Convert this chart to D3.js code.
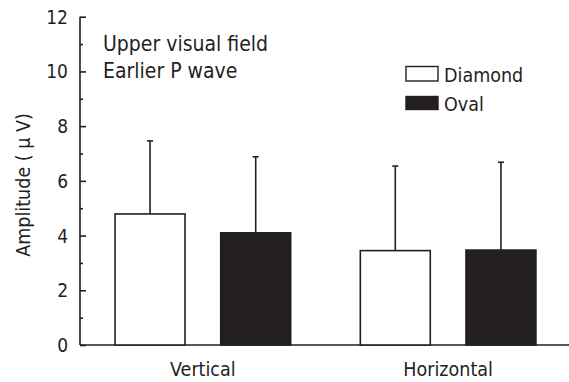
<!DOCTYPE html>
<html>
<head>
<meta charset="utf-8">
<script src="https://cdn.jsdelivr.net/npm/d3@7"></script>
<style>
  body { margin: 0; background: #fff; }
  text { font-family: "DejaVu Sans Condensed", "DejaVu Sans", Verdana, sans-serif; font-stretch: condensed; fill: #231f20; }
</style>
</head>
<body>
<div id="chart"></div>
<script>
const categories = ["Vertical", "Horizontal"];
const series = ["Diamond", "Oval"];
const diamondMean = [4.79, 3.45];
const diamondSD = [2.67, 3.09];
const ovalMean = [4.1, 3.47];
const ovalSD = [2.78, 3.21];
const yTicks = [0, 2, 4, 6, 8, 10, 12];
const yMinorTicks = [1, 3, 5, 7, 9, 11];

const width = 569, height = 382;
const ink = "#231f20";
const fills = { Diamond: "#fff", Oval: "#231f20" };

const rows = categories.map((c, i) => ({
  category: c,
  values: [
    { key: "Diamond", mean: diamondMean[i], sd: diamondSD[i] },
    { key: "Oval", mean: ovalMean[i], sd: ovalSD[i] }
  ]
}));

const svg = d3.select("#chart").append("svg")
  .attr("width", width)
  .attr("height", height);

// scales
const x0 = d3.scaleBand()
  .domain(categories)
  .range([80, 571])
  .paddingInner(0.284)
  .paddingOuter(0.143);

const x1 = d3.scaleBand()
  .domain(series)
  .range([0, x0.bandwidth()])
  .paddingInner(0.338);

const y = d3.scaleLinear()
  .domain([0, 12])
  .range([345, 16.7]);

// y axis
const yAxis = svg.append("g")
  .attr("transform", "translate(80,0)")
  .call(d3.axisRight(y).tickValues(yTicks).tickSize(6).tickFormat(""));
yAxis.select(".domain").attr("d", `M0,${y(12)}V${y(0)}`);
yAxis.selectAll("line, path").attr("stroke", ink).attr("stroke-width", 1.6);

svg.append("g")
  .attr("transform", "translate(80,0)")
  .call(d3.axisRight(y).tickValues(yMinorTicks).tickSize(3).tickFormat(""))
  .call(g => g.select(".domain").remove())
  .selectAll("line").attr("stroke", ink).attr("stroke-width", 1.6);

svg.append("g").selectAll("text")
  .data(yTicks)
  .join("text")
  .attr("x", 68)
  .attr("y", d => y(d) + 7)
  .attr("text-anchor", "end")
  .attr("font-size", 19)
  .text(d => d);

// baseline
svg.append("line")
  .attr("x1", 80).attr("x2", 569)
  .attr("y1", y(0)).attr("y2", y(0))
  .attr("stroke", ink).attr("stroke-width", 1.6);

// x labels
svg.append("g").selectAll("text")
  .data(categories)
  .join("text")
  .attr("x", d => x0(d) + x0.bandwidth() / 2)
  .attr("y", 376)
  .attr("text-anchor", "middle")
  .attr("font-size", 19.5)
  .text(d => d);

// bars
const groups = svg.append("g").selectAll("g")
  .data(rows)
  .join("g")
  .attr("transform", d => `translate(${x0(d.category)},0)`);

const bar = groups.selectAll("g")
  .data(d => d.values)
  .join("g");

bar.append("line")
  .attr("x1", d => x1(d.key) + x1.bandwidth() / 2)
  .attr("x2", d => x1(d.key) + x1.bandwidth() / 2)
  .attr("y1", d => y(d.mean))
  .attr("y2", d => y(d.mean + d.sd))
  .attr("stroke", ink).attr("stroke-width", 1.6);

bar.append("line")
  .attr("x1", d => x1(d.key) + x1.bandwidth() / 2 - 3)
  .attr("x2", d => x1(d.key) + x1.bandwidth() / 2 + 3)
  .attr("y1", d => y(d.mean + d.sd))
  .attr("y2", d => y(d.mean + d.sd))
  .attr("stroke", ink).attr("stroke-width", 1.6);

bar.append("rect")
  .attr("x", d => x1(d.key))
  .attr("y", d => y(d.mean))
  .attr("width", x1.bandwidth())
  .attr("height", d => y(0) - y(d.mean))
  .attr("fill", d => fills[d.key])
  .attr("stroke", ink)
  .attr("stroke-width", 1.6);

// annotation
svg.append("text").attr("x", 103).attr("y", 51).attr("font-size", 21).text("Upper visual field");
svg.append("text").attr("x", 103).attr("y", 78).attr("font-size", 21).text("Earlier P wave");

// legend
const legend = svg.append("g").selectAll("g")
  .data(series)
  .join("g")
  .attr("transform", (d, i) => `translate(406,${i * 29})`);

legend.append("rect")
  .attr("x", 0)
  .attr("y", (d, i) => i ? 96.5 - 29 : 66.5)
  .attr("width", 32)
  .attr("height", (d, i) => i ? 13 : 14.5)
  .attr("fill", d => fills[d])
  .attr("stroke", ink)
  .attr("stroke-width", 1.4);

legend.append("text")
  .attr("x", 38)
  .attr("y", 82)
  .attr("font-size", 19.5)
  .text(d => d);

// y title
svg.append("text")
  .attr("transform", "translate(30,185) rotate(-90)")
  .attr("text-anchor", "middle")
  .attr("font-size", 19.5)
  .text("Amplitude ( \u03bc V)");
</script>
</body>
</html>
